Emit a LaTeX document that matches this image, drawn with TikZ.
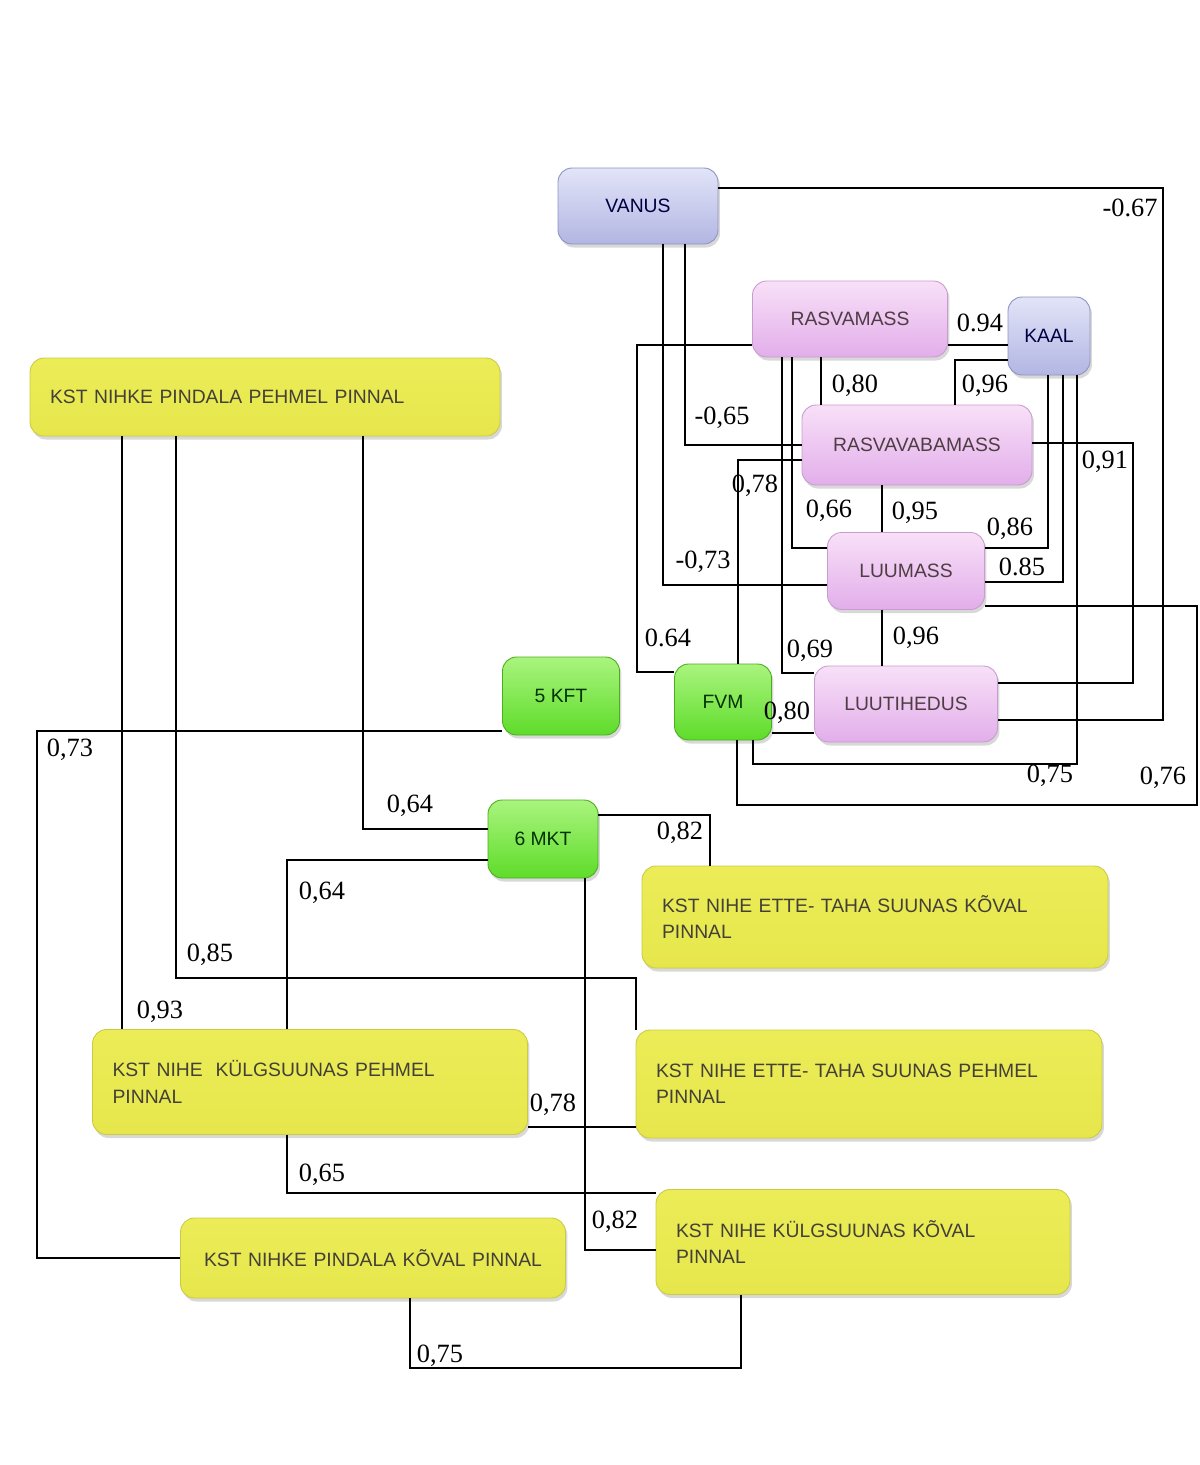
\documentclass[tikz,border=0pt]{standalone}
\usepackage{fontspec}
\setmainfont{Liberation Serif}
\setsansfont{Liberation Sans}
\usetikzlibrary{shadows}

\definecolor{blutop}{HTML}{E2E4F8}
\definecolor{blubot}{HTML}{B2B6E2}
\definecolor{bluedge}{HTML}{8E94C2}
\definecolor{pnktop}{HTML}{F8E0F8}
\definecolor{pnkbot}{HTML}{E2AEEA}
\definecolor{pnkedge}{HTML}{C89CCE}
\definecolor{grntop}{HTML}{AAF47E}
\definecolor{grnbot}{HTML}{5EDC2A}
\definecolor{grnedge}{HTML}{4AAE1E}
\definecolor{ylwtop}{HTML}{ECEC58}
\definecolor{ylwmid}{HTML}{F8F89A}
\definecolor{ylwbot}{HTML}{E6E64C}
\definecolor{ylwedge}{HTML}{CACA44}

\begin{document}
\begin{tikzpicture}
        [x=0.02cm,y=-0.02cm,line width=1.1pt,
         box/.style={rounded corners=0.28cm,line width=0.5pt,inner sep=0pt,
           font=\sffamily\fontsize{11}{15}\selectfont,
           drop shadow={opacity=0.3,shadow xshift=0.04cm,shadow yshift=-0.07cm}},
         blu/.style={box,draw=bluedge,top color=blutop,bottom color=blubot,text=black!75!blue},
         pnk/.style={box,draw=pnkedge,top color=pnktop,bottom color=pnkbot,text=black!80!magenta},
         grn/.style={box,draw=grnedge,top color=grntop,bottom color=grnbot,text=black!80!green},
         ylw/.style={box,draw=ylwedge,top color=ylwtop,middle color=ylwmid,bottom color=ylwbot,
           text=black!85!yellow,inner xsep=0.4cm,align=left},
         lbl/.style={font=\fontsize{15}{15}\selectfont,inner sep=0pt}]
        \useasboundingbox[fill=white] (0,0) rectangle (1200,1465);

        \node[blu,minimum width=3.2cm,minimum height=1.52cm] (vanus) at (638,206) {VANUS};
        \node[pnk,minimum width=3.9cm,minimum height=1.52cm] (rasva) at (850,319) {RASVAMASS};
        \node[blu,minimum width=1.64cm,minimum height=1.56cm] (kaal) at (1049,336) {KAAL};
        \node[pnk,minimum width=4.6cm,minimum height=1.6cm] (rvaba) at (917,445) {RASVAVABAMASS};
        \node[pnk,minimum width=3.14cm,minimum height=1.54cm] (luumass) at (906,571) {LUUMASS};
        \node[pnk,minimum width=3.66cm,minimum height=1.52cm] (luutih) at (906,704) {LUUTIHEDUS};
        \node[grn,minimum width=1.94cm,minimum height=1.52cm] (fvm) at (723,702) {FVM};
        \node[grn,minimum width=2.34cm,minimum height=1.56cm] (kpt5) at (561,696) {5 KFT};
        \node[grn,minimum width=2.2cm,minimum height=1.56cm] (mkt6) at (543,839) {6 MKT};

        \node[ylw,text width=8.6cm,minimum height=1.56cm] (pehPind) at (265,397)
            {KST NIHKE PINDALA PEHMEL PINNAL};
        \node[ylw,text width=8.52cm,minimum height=2.04cm] (etteKov) at (875,917)
            {KST NIHE ETTE- TAHA SUUNAS KÕVAL\\PINNAL};
        \node[ylw,text width=7.9cm,minimum height=2.1cm] (kulgPeh) at (310,1082)
            {KST NIHE~ KÜLGSUUNAS PEHMEL\\PINNAL};
        \node[ylw,text width=8.52cm,minimum height=2.16cm] (ettePeh) at (869,1084)
            {KST NIHE ETTE- TAHA SUUNAS PEHMEL\\PINNAL};
        \node[ylw,text width=6.9cm,align=center,minimum height=1.6cm] (kovPind) at (373,1258)
            {KST NIHKE PINDALA KÕVAL PINNAL};
        \node[ylw,text width=7.48cm,minimum height=2.1cm] (kulgKov) at (863,1242)
            {KST NIHE KÜLGSUUNAS KÕVAL\\PINNAL};

        % connectors
        \draw (vanus.east |- 0,188) -- (1163,188) -- (1163,720) -- (luutih.east |- 0,720);
        \draw (vanus.south -| 685,0) -- (685,445) -- (rvaba.west |- 0,445);
        \draw (vanus.south -| 663,0) -- (663,585) -- (luumass.west |- 0,585);
        \draw (rasva.west |- 0,345) -- (637,345) -- (637,672) -- (fvm.west |- 0,672);
        \draw (rasva.south -| 821,0) -- (rvaba.north -| 821,0);
        \draw (rasva.south -| 792,0) -- (792,548) -- (luumass.west |- 0,548);
        \draw (rasva.south -| 782,0) -- (782,673) -- (luutih.west |- 0,673);
        \draw (rasva.east |- 0,345) -- (kaal.west |- 0,345);
        \draw (kaal.west |- 0,360) -- (955,360) -- (rvaba.north -| 955,0);
        \draw (rvaba.south -| 882,0) -- (luumass.north -| 882,0);
        \draw (luumass.south -| 882,0) -- (luutih.north -| 882,0);
        \draw (kaal.south -| 1048,0) -- (1048,548) -- (luumass.east |- 0,548);
        \draw (kaal.south -| 1063,0) -- (1063,582) -- (luumass.east |- 0,582);
        \draw (kaal.south -| 1077,0) -- (1077,764) -- (753,764) -- (fvm.south -| 753,0);
        \draw (rvaba.east |- 0,443) -- (1133,443) -- (1133,683) -- (luutih.east |- 0,683);
        \draw (luumass.east |- 0,606) -- (1197,606) -- (1197,805) -- (737,805) -- (fvm.south -| 737,0);
        \draw (rvaba.west |- 0,460) -- (738,460) -- (fvm.north -| 738,0);
        \draw (fvm.east |- 0,733) -- (luutih.west |- 0,733);
        \draw (kpt5.west |- 0,731) -- (37,731) -- (37,1258) -- (kovPind.west |- 0,1258);
        \draw (pehPind.south -| 363,0) -- (363,829) -- (mkt6.west |- 0,829);
        \draw (pehPind.south -| 122,0) -- (kulgPeh.north -| 122,0);
        \draw (pehPind.south -| 176,0) -- (176,978) -- (636,978) -- (ettePeh.north -| 636,0);
        \draw (mkt6.west |- 0,860) -- (287,860) -- (kulgPeh.north -| 287,0);
        \draw (mkt6.east |- 0,815) -- (710,815) -- (etteKov.north -| 710,0);
        \draw (mkt6.south -| 585,0) -- (585,1250) -- (kulgKov.west |- 0,1250);
        \draw (kulgPeh.east |- 0,1127) -- (ettePeh.west |- 0,1127);
        \draw (kulgPeh.south -| 287,0) -- (287,1193) -- (kulgKov.west |- 0,1193);
        \draw (kovPind.south -| 410,0) -- (410,1368) -- (741,1368) -- (kulgKov.south -| 741,0);

        % correlations
        \foreach \x/\y/\t [count=\i] in {1130/208/-0.67, 980/323/0.94, {855/386/0,80}, {985/386/0,96},
            {722/418/-0,65}, {1105/462/0,91}, {755/486/0,78}, {829/511/0,66}, {915/513/0,95},
            {1010/529/0,86}, {703/562/-0,73}, 1022/567/0.85, 668/638/0.64, {810/651/0,69},
            {916/638/0,96}, {787/713/0,80}, {1050/776/0,75}, {1163/778/0,76}, {70/750/0,73},
            {410/806/0,64}, {680/833/0,82}, {322/893/0,64}, {210/955/0,85}, {160/1012/0,93},
            {553/1105/0,78}, {322/1175/0,65}, {615/1222/0,82}, {440/1356/0,75}}
            \node[lbl] (c\i) at (\x,\y) {\t};

      \end{tikzpicture}
\end{document}
